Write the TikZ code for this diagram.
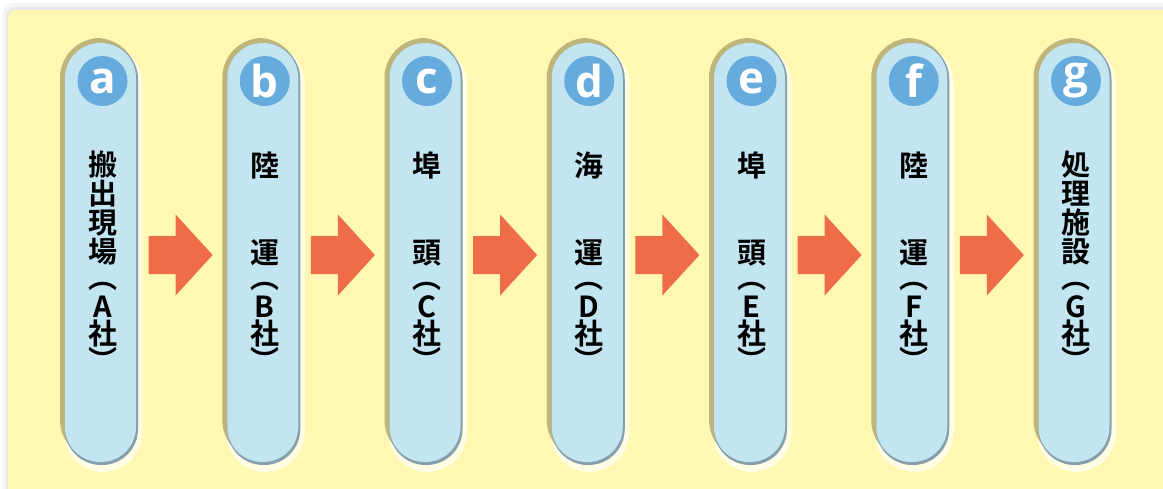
\documentclass[tikz,border=0pt]{standalone}
\usepackage{fontspec}
\newfontfamily\jpfont{Noto Sans CJK JP}[BoldFont={* Bold}]
\newfontfamily\circfont{Open Sans}[BoldFont={* Bold}]
\usepackage{tikz}
\usetikzlibrary{positioning,shapes,arrows,calc}
\definecolor{bgyellow}{HTML}{FFF8B3}
\definecolor{pillblue}{HTML}{C3E5F2}
\definecolor{pilledge}{HTML}{869FAC}
\definecolor{olive}{HTML}{BDB57A}
\definecolor{glow}{HTML}{FFFDE4}
\definecolor{badge}{HTML}{65ABDD}
\definecolor{flow}{HTML}{EE6C48}

\tikzset{
  pill/.style={fill=pillblue, rounded corners=35pt, minimum width=71pt,
    minimum height=419pt, inner sep=0pt},
  badgedot/.style={circle, fill=badge, minimum size=50pt, inner sep=0pt,
    text=white, font=\circfont\bfseries\fontsize{44}{44}\selectfont},
  jptext/.style={inner sep=0pt, align=center,
    font=\jpfont\bfseries\fontsize{29}{29}\selectfont}
}

\begin{document}
\begin{tikzpicture}[x=1pt, y=-1pt]
  \useasboundingbox (0,0) rectangle (1163,488);
  % backdrop
  \fill[black!4, rounded corners=12pt] (2,3) rectangle (1190,520);
  \fill[black!9, rounded corners=10pt] (6,7) rectangle (1190,520);
  \fill[bgyellow, rounded corners=8pt] (8,10) rectangle (1190,520);

  % the seven stations
  \foreach \i/\l/\name/\co in {0/a/{搬\\出\\現\\場}/A, 1/b/{陸\\[58pt]運}/B,
      2/c/{埠\\[58pt]頭}/C, 3/d/{海\\[58pt]運}/D, 4/e/{埠\\[58pt]頭}/E,
      5/f/{陸\\[58pt]運}/F, 6/g/{処\\理\\施\\設}/G} {
    \pgfmathsetmacro{\x}{101.5+162.25*\i}
    \fill[glow, rounded corners=40pt] (\x-38,44) rectangle (\x+41,472);
    \fill[olive, rounded corners=40pt] (\x-41.5,38) rectangle (\x+35,460);
    \fill[pilledge, rounded corners=36pt] (\x-36.5,43) rectangle (\x+36.5,465);
    \node[pill] (pill-\l) at (\x-1,252.5) {};
    \node[badgedot] (lbl-\l) at (\x+1,81) {\l};
    \node[jptext] (txt-\l) at (\x+1,208.5) {\name};
    \node[jptext, anchor=base] (co-\l-1) at (\x+1,288) {\smash{︵}};
    \node[jptext] (co-\l-2) at (\x+1,307) {\co};
    \node[jptext] (co-\l-3) at (\x+1,333) {社};
    \node[jptext, anchor=base] (co-\l-4) at (\x+1,371) {\smash{︶}};
  }

  % flow arrows between stations
  \foreach \p/\q in {a/b, b/c, c/d, d/e, e/f, f/g} {
    \coordinate (arr-\p\q) at ($(pill-\p)!0.5!(pill-\q)+(-1,2.5)$);
    \fill[flow] ($(arr-\p\q)+(-32,-19)$) -- ($(arr-\p\q)+(-5,-19)$)
      -- ($(arr-\p\q)+(-5,-40.5)$) -- ($(arr-\p\q)+(32,0)$)
      -- ($(arr-\p\q)+(-5,40.5)$) -- ($(arr-\p\q)+(-5,19)$)
      -- ($(arr-\p\q)+(-32,19)$) -- cycle;
  }
\end{tikzpicture}
\end{document}
